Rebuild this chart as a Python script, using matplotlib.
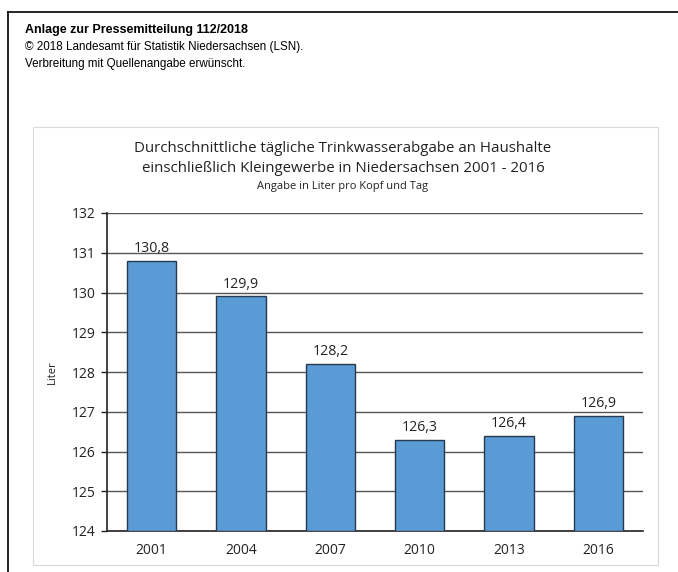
import matplotlib.pyplot as plt
from matplotlib.patches import Rectangle
from matplotlib.lines import Line2D

jahre = ['2001', '2004', '2007', '2010', '2013', '2016']
liter = [130.8, 129.9, 128.2, 126.3, 126.4, 126.9]
labels = ['130,8', '129,9', '128,2', '126,3', '126,4', '126,9']
yticks = [124, 125, 126, 127, 128, 129, 130, 131, 132]

plt.rcParams['font.family'] = ['Open Sans', 'DejaVu Sans']

fig = plt.figure(figsize=(6.78, 5.72), dpi=100)
W, H = 678, 572

# page frame and chart frame
fig.add_artist(Line2D([8 / W, 8 / W], [0, 1 - 12 / H], color='black', lw=1.2))
fig.add_artist(Line2D([8 / W, 1], [1 - 12 / H, 1 - 12 / H], color='black', lw=1.2))
fig.add_artist(Rectangle((33 / W, 1 - 565 / H), (658 - 33) / W, (565 - 127) / H,
                         fill=False, edgecolor='#d9d9d9', lw=0.8))

# header
fig.text(25 / W, 1 - 30 / H, 'Anlage zur Pressemitteilung 112/2018', family='Liberation Sans',
         fontsize=9, fontweight='bold', va='center')
fig.text(25 / W, 1 - 47 / H, '© 2018 Landesamt für Statistik Niedersachsen (LSN).',
         family='Liberation Sans', fontsize=8.4, va='center')
fig.text(25 / W, 1 - 64 / H, 'Verbreitung mit Quellenangabe erwünscht.',
         family='Liberation Sans', fontsize=8.4, va='center')

# chart titles
fig.text(343 / W, 1 - 148 / H, 'Durchschnittliche tägliche Trinkwasserabgabe an Haushalte',
         fontsize=10.8, ha='center', va='center', color='#222222')
fig.text(343 / W, 1 - 168 / H, 'einschließlich Kleingewerbe in Niedersachsen 2001 - 2016',
         fontsize=10.8, ha='center', va='center', color='#222222')
fig.text(343 / W, 1 - 187 / H, 'Angabe in Liter pro Kopf und Tag',
         fontsize=8, ha='center', va='center', color='#222222')

ax = fig.add_axes([107 / W, 1 - 531 / H, (643 - 107) / W, (531 - 213) / H])
x = range(len(jahre))
ax.bar(x, [v - 124 for v in liter], bottom=124, width=0.55, color='#5b9bd5',
       edgecolor='#243a52', linewidth=1, zorder=3)
for xi, v, t in zip(x, liter, labels):
    ax.text(xi, v + 0.12, t, ha='center', va='bottom', fontsize=10.2, color='#222222')

ax.set_ylim(124, 132)
ax.set_xlim(-0.5, 5.5)
ax.set_yticks(yticks)
ax.set_xticks(list(x))
ax.set_xticklabels(jahre)
ax.yaxis.grid(True, color='#555555', lw=1, zorder=0)
for s in ['top', 'right']:
    ax.spines[s].set_visible(False)
ax.spines['left'].set_color('#222222')
ax.spines['bottom'].set_color('#222222')
ax.spines['left'].set_linewidth(1.2)
ax.spines['bottom'].set_linewidth(1.2)
ax.tick_params(axis='y', length=4, width=1, labelsize=10, colors='#222222', pad=4)
ax.tick_params(axis='x', length=0, labelsize=10, colors='#222222', pad=9)
ax.set_ylabel('Liter', fontsize=8, color='#222222', labelpad=10)

fig.savefig('out.png', dpi=100)
